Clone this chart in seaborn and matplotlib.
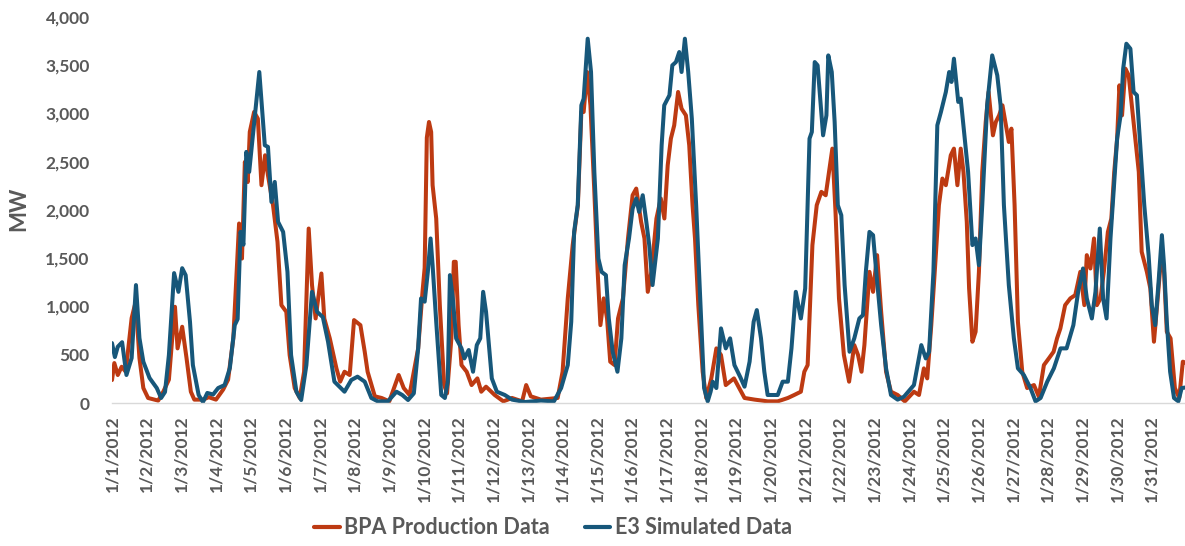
import pandas as pd
import matplotlib.pyplot as plt
import seaborn as sns

# hours since 1/1/2012 00:00 (MW)
bpa_hour = [0, 1.6, 4, 6.7, 9.5, 13.6, 16.4, 19, 21.7, 25, 32, 35.5, 39.4, 41.7, 43.6, 45.4,
            48.6, 51.6, 54.6, 57, 63, 67, 72, 77, 80.4, 84, 88, 90, 92, 94, 95.4, 98.4,
            101, 103.5, 106, 108, 111.5, 114.6, 117.3, 120.7, 123, 126.5, 130, 133, 136.2,
            138.5, 141, 145, 147, 150.8, 155.4, 158, 161, 164.6, 167.6, 172, 175, 177, 182,
            186.7, 192, 198.5, 202, 206, 212, 215, 216.5, 218, 219.5, 221, 222, 224.5, 227,
            230, 232, 235, 236.7, 238, 240, 242, 245.6, 249, 253, 255.7, 259, 265, 271, 277,
            284, 286.8, 290, 297, 308.6, 312, 315.6, 319, 322.6, 325, 326.6, 329, 331.3, 334,
            336.3, 338.2, 340.5, 342.8, 345, 348, 350.4, 353.8, 357.3, 360.5, 363, 366.4,
            368.7, 371, 373.5, 377, 380, 382.5, 384.8, 387, 389.3, 392, 394.4, 397.4, 399.7,
            402, 403.7, 406, 409, 411.5, 415, 418.5, 421.7, 425, 430.7, 435.7, 438, 445, 454,
            461, 468, 472.4, 477, 479.4, 481.7, 485, 488, 491.2, 494.2, 496.5, 498.8, 501,
            503.4, 506.8, 510.4, 514, 516.6, 519, 521, 524.5, 527, 529.8, 532.6, 536, 539.4,
            544, 549, 555.3, 558.8, 562.2, 564.5, 567.3, 570.3, 572.6, 575, 577.4, 580.8,
            583, 585.4, 587.7, 589.6, 591.9, 593.5, 595.8, 598, 600.3, 602.6, 605, 607, 610,
            612, 614.3, 616.6, 619, 621, 622.8, 625, 627.3, 630.3, 633.7, 638.4, 641.8, 645.3,
            648.7, 652, 654.4, 656.7, 660, 663.6, 667, 670.5, 673.3, 675, 677.5, 680, 682,
            684.5, 686.8, 689.6, 692, 694, 696, 697.6, 699.4, 701.7, 704, 707.4, 711, 713,
            716.6, 719, 721.5, 723.7, 726, 728.5, 730.4, 733, 736, 739, 741.5, 743]
bpa_mw = [238, 414, 290, 376, 324, 880, 1049, 466, 155, 52, 25, 117, 242, 670, 997, 566,
          790, 466, 117, 35, 35, 60, 35, 140, 242, 670, 1860, 1497, 2498, 2290, 2809, 3016,
          2946, 2257, 2567, 2360, 2050, 1670, 1014, 945, 497, 155, 52, 324, 1808,
          1222, 876, 1342, 876, 670, 359, 221, 324, 290, 859, 807, 531, 324, 69,
          52, 17, 290, 155, 83, 566, 1150, 1400, 2750, 2912, 2808, 2257, 1912, 1014,
          186, 100, 670, 1463, 1463, 807, 393, 324, 186, 255, 117, 169, 83, 17, 52,
          17, 186, 69, 35, 52, 324, 1084, 1636, 2050, 3016, 3016, 3430, 3085, 2188,
          1359, 807, 1084, 876, 428, 393, 876, 1084, 1705, 2153, 2222, 1877,
          1705, 1152, 1359, 1912, 2119, 1912, 2464, 2740, 2877, 3223, 3050, 2981, 2671,
          2050, 1705, 1014, 324, 52, 255, 566, 497, 186, 255, 117, 52, 35, 17,
          17, 52, 83, 117, 324, 393, 1636, 2050, 2188, 2153, 2395, 2636, 1980,
          1084, 497, 221, 600, 497, 324, 600, 1359, 1152, 1532, 945, 324, 117,
          83, 17, 117, 83, 359, 255, 807, 1497, 2050, 2326, 2257, 2567,
          2636, 2257, 2636, 2395, 1877, 1187, 635, 738, 1359, 2395, 2912, 3223, 2774,
          2912, 2981, 3085, 2878, 2705, 2843, 2050, 842, 324, 155, 186, 65, 393,
          462, 531, 670, 773, 1014, 1084, 1118, 1359, 1014, 1532, 1394, 1705, 1014,
          1084, 1359, 1773, 1912, 2395, 2740, 3292, 2981, 3465, 3396, 2912, 2395, 1567,
          1359, 1187, 635, 1014, 1428, 1359, 738, 670, 155, 52, 428, 420]

e3_hour = [0, 2, 4, 7, 10, 13.6, 16.6, 19, 21.7, 26, 31, 34, 36.7, 39.4, 43, 46, 48.6, 51,
           54, 56, 60, 63, 66, 70, 73.5, 78, 81.6, 85, 87, 89, 91, 93, 95, 99, 102, 105.8,
           108, 110.4, 112.7, 115, 118.5, 121.5, 124, 127.7, 131, 134.6, 138.5, 142, 146,
           149.6, 154, 161, 165.7, 170, 175, 179.6, 184, 191, 197, 201, 205, 209, 212, 214,
           216.5, 218.7, 220.6, 222, 224.5, 228, 230.5, 232.5, 234, 236, 238.3, 242, 244,
           247, 250, 252.6, 255, 257, 259, 263, 266.5, 272, 277, 286, 297, 306, 311, 315.6,
           318, 320, 322.5, 325, 326.6, 329.4, 331.7, 334, 336.8, 339, 342, 344, 346.7, 350,
           352.7, 355, 358, 360.5, 363, 365, 367.5, 370, 372, 374.3, 378, 380.6, 382.4, 386,
           388, 390.5, 392.8, 394.4, 396.7, 399, 401.5, 404.5, 407.5, 410, 412.5, 414.5,
           416, 418.5, 421.7, 425, 428, 431, 435, 438, 441.5, 444.3, 446.5, 449.4, 451.7,
           454, 457.5, 461, 464.4, 468, 470.5, 473.5, 477, 480, 483, 484.6, 486.6, 488.6,
           492.4, 494.7, 496, 498.4, 500.4, 502.6, 505, 507.3, 510.7, 514, 517.5, 520, 522,
           524.5, 527, 529, 532.6, 536, 539.4, 544, 548.4, 555.3, 560.4, 563.5, 565.8,
           568.8, 571.5, 574, 577.4, 579.7, 581.3, 583, 586, 587.7, 590, 592.8, 595.8, 598,
           600.3, 602.6, 606, 609.5, 613, 615.3, 617.6, 621, 624.5, 627.3, 631.4, 636,
           639.5, 643, 647.6, 652.2, 656.8, 661, 665.7, 669, 672.4, 675, 678.5, 681, 684,
           686.3, 688.7, 691.4, 693.7, 696, 698.4, 700.2, 702.4, 705.2, 707.4, 709.7, 712.5,
           714.8, 717.8, 720, 722.4, 724.7, 727, 728.5, 730.4, 732.7, 735.4, 738.4, 740.7,
           743]
e3_mw = [621, 476, 583, 630, 290, 466, 1222, 673, 428, 259, 155, 52, 114, 497, 1346, 1152,
         1397, 1325, 842, 393, 83, 10, 104, 88, 155, 186, 362, 807, 870, 1773, 1640, 2602,
         2395, 2981, 3430, 2671, 2654, 2084, 2291, 1877, 1773, 1359, 497, 117, 31, 393,
         1152, 945, 890, 635, 221, 117, 238, 273, 221, 52, 17, 17, 117, 83, 31, 100, 566,
         1084, 1050, 1359, 1705, 1428, 842, 83, 52, 221, 1325, 1084, 670, 566, 462, 549,
         324, 600, 670, 1152, 945, 255, 117, 83, 35, 10, 25, 17, 155, 393, 842, 1773, 2050,
         3085, 3154, 3775, 3430, 2395, 1497, 1359, 1325, 876, 531, 324, 670, 1428, 1705,
         2015, 2119, 1980, 2153, 1877, 1636, 1222, 1705, 2671, 3085, 3189, 3499, 3533,
         3637, 3430, 3775, 3430, 2947, 2050, 1014, 155, 17, 117, 221, 155, 773, 566, 670,
         393, 270, 169, 428, 842, 963, 670, 324, 83, 83, 83, 221, 221, 566, 1152, 876, 1187,
         2740, 2808, 3533, 3499, 2774, 2981, 3602, 3430, 2912, 2050, 1946, 1222, 531, 670,
         876, 911, 1359, 1773, 1739, 1394, 807, 359, 83, 35, 65, 186, 600, 462, 531, 1359,
         2878, 3016, 3223, 3430, 3327, 3568, 3120, 3154, 2808, 2395, 1636, 1705, 1428,
         2050, 3085, 3602, 3396, 3085, 2050, 1222, 670, 359, 290, 155, 17, 52, 221, 359,
         566, 566, 807, 1152, 1394, 1084, 876, 1152, 1808, 1084, 876, 1705, 2222, 2740,
         2981, 3465, 3723, 3671, 3223, 3189, 2567, 2050, 1532, 1014, 807, 1256, 1739, 1428,
         842, 324, 52, 17, 155, 160]

day_labels = [f"1/{d}/2012" for d in range(1, 32)]
y_ticks = list(range(0, 4001, 500))

bpa_name = "BPA Production Data"
e3_name = "E3 Simulated Data"

df = pd.concat([
    pd.DataFrame({"hour": bpa_hour, "MW": bpa_mw, "series": bpa_name}),
    pd.DataFrame({"hour": e3_hour, "MW": e3_mw, "series": e3_name}),
], ignore_index=True)

sns.set_style("white")
plt.rcParams["font.family"] = ["Lato", "DejaVu Sans"]

grey = "#595959"
fig = plt.figure(figsize=(11.85, 5.46), dpi=100)
ax = fig.add_axes([112 / 1185, 1 - 403 / 546, 1073 / 1185, 386 / 546])

sns.lineplot(data=df, x="hour", y="MW", hue="series",
             palette={bpa_name: "#BD3A12", e3_name: "#17577A"},
             linewidth=2.9, estimator=None, sort=False, ax=ax)

ax.set_xlim(0, 743)
ax.set_ylim(0, 4000)
ax.set_xticks(range(0, 744, 24))
ax.set_xticklabels(day_labels, rotation=90)
ax.set_yticks(y_ticks)
ax.set_yticklabels([f"{v:,}" for v in y_ticks])
ax.tick_params(axis="both", length=0, labelsize=12.5, labelcolor=grey)
ax.tick_params(axis="y", pad=16)
ax.tick_params(axis="x", pad=9)
for lab in ax.get_xticklabels() + ax.get_yticklabels():
    lab.set_fontweight("bold")

ax.set_xlabel("")
ax.set_ylabel("")
fig.text(19 / 1185, 1 - 209 / 546, "MW", rotation=90, fontsize=16,
         fontweight="bold", color=grey, ha="center", va="center")

sns.despine(ax=ax, left=True)
ax.spines["bottom"].set_color("#D9D9D9")
ax.spines["bottom"].set_linewidth(1)

sns.move_legend(ax, "center", bbox_to_anchor=((553 - 112) / 1073, (403 - 528) / 386),
                ncol=2, frameon=False, title=None, fontsize=15.5,
                handlelength=1.2, handletextpad=0.2, columnspacing=1.6)
leg = ax.get_legend()
for h in leg.get_lines():
    h.set_linewidth(3)
for t in leg.get_texts():
    t.set_fontweight("bold")
    t.set_color(grey)

fig.savefig("out.png", dpi=100)
